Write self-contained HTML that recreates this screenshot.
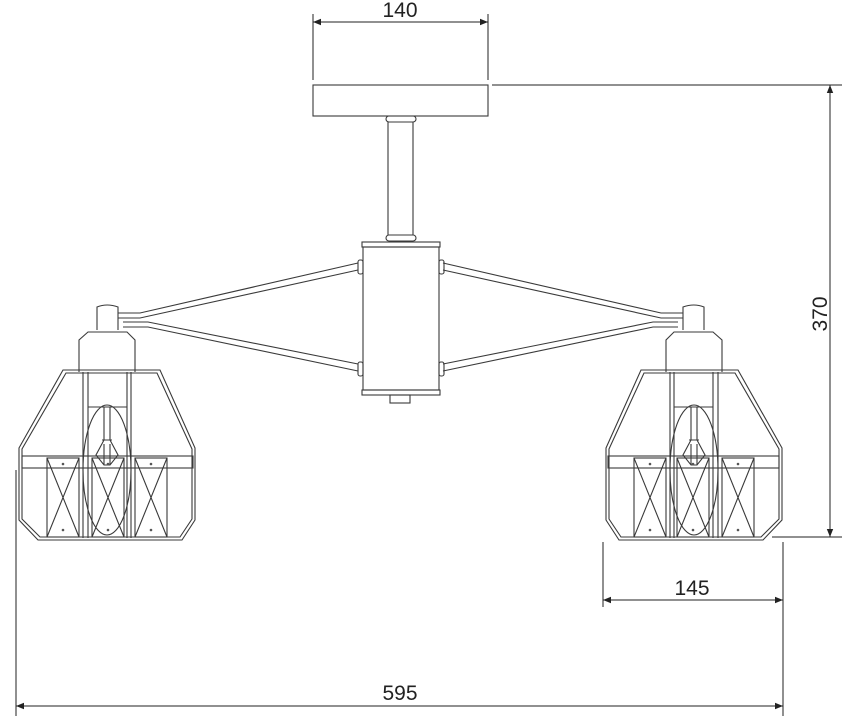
<!DOCTYPE html>
<html><head><meta charset="utf-8"><style>html,body{margin:0;padding:0;background:#fff}svg{display:block}</style></head><body>
<svg width="856" height="720" viewBox="0 0 856 720" xmlns="http://www.w3.org/2000/svg" fill="none" stroke="#3a3a3a" stroke-width="1.1" font-family="Liberation Sans, sans-serif">
<defs>
<marker id="ar" viewBox="0 0 10 10" refX="10" refY="5" markerWidth="14" markerHeight="8" orient="auto-start-reverse" markerUnits="userSpaceOnUse"><path d="M0,1 L10,5 L0,9 z" fill="#222" stroke="none"/></marker>
<g id="lamp">
  <path d="M118,313 L140,313 L358,263 M118,318 L140,318 L358,270"/>
  <path d="M123,322 L148,322 L358,364 M123,327 L148,327 L358,371"/>
  <path d="M97,330 L97,307 Q107,303 118,307 L118,330"/>
  <path d="M79,372 L79,340 L88,332 L127,332 L135,340 L135,372"/>
  <path d="M63,370 L160,370 L195,448 L195,520 L182,540 L38,540 L19,520 L19,448 Z"/>
  <path d="M66,373 L157,373 L192,449 L192,519 L180,537 L40,537 L22,519 L22,449 Z"/>
  <rect x="22" y="456" width="171" height="12"/>
  <path d="M83,372 V538 M88,372 V538 M127,372 V538 M131,372 V538"/>
  <ellipse cx="107" cy="470" rx="24" ry="65"/>
  <path d="M88,407 L127,407 M104,407 V440 M110,407 V440 M104,440 L96,455 L104,465 L110,465 L118,455 L110,440 M102,440 H112 M104,444 V465 M110,444 V465"/>
  <g>
    <rect x="47" y="458" width="32" height="79"/><path d="M47,458 L79,537 M79,458 L47,537"/>
    <rect x="92" y="458" width="32" height="79"/><path d="M92,458 L124,537 M124,458 L92,537"/>
    <rect x="135" y="458" width="32" height="79"/><path d="M135,458 L167,537 M167,458 L135,537"/>
  </g>
  <g fill="#555" stroke="none">
    <circle cx="63" cy="464" r="1.3"/><circle cx="108" cy="464" r="1.3"/><circle cx="151" cy="464" r="1.3"/>
    <circle cx="63" cy="530" r="1.3"/><circle cx="108" cy="530" r="1.3"/><circle cx="151" cy="530" r="1.3"/>
  </g>
</g>
</defs>
<rect x="313" y="85" width="175" height="31"/>
<rect x="386" y="116" width="30" height="6" rx="3"/>
<path d="M388,122 V235 M413,122 V235"/>
<rect x="386" y="235" width="30" height="6" rx="3"/>
<rect x="362" y="242" width="78" height="5"/>
<rect x="363" y="247" width="76" height="143"/>
<rect x="362" y="390" width="78" height="5"/>
<rect x="390" y="395" width="20" height="8"/>
<rect x="358" y="260" width="5" height="14" rx="2"/><rect x="358" y="362" width="5" height="14" rx="2"/>
<rect x="439" y="260" width="5" height="14" rx="2"/><rect x="439" y="362" width="5" height="14" rx="2"/>
<use href="#lamp"/>
<use href="#lamp" transform="translate(801,0) scale(-1,1)"/>
<g stroke="#222" stroke-width="1">
  <path d="M313,14 V80 M488,14 V80"/>
  <line x1="313" y1="22" x2="488" y2="22" marker-start="url(#ar)" marker-end="url(#ar)"/>
  <path d="M492,85 H842 M772,537 H842"/>
  <line x1="830" y1="85" x2="830" y2="537" marker-start="url(#ar)" marker-end="url(#ar)"/>
  <path d="M603,542 V607 M783,542 V716 M16,470 V716"/>
  <line x1="603" y1="600" x2="783" y2="600" marker-start="url(#ar)" marker-end="url(#ar)"/>
  <line x1="16" y1="706" x2="783" y2="706" marker-start="url(#ar)" marker-end="url(#ar)"/>
</g>
<g fill="#222" stroke="none" font-size="21" text-anchor="middle">
  <text x="400" y="17">140</text>
  <text x="692" y="595">145</text>
  <text x="400" y="700">595</text>
  <text transform="translate(827,314) rotate(-90)">370</text>
</g>
</svg>
</body></html>
